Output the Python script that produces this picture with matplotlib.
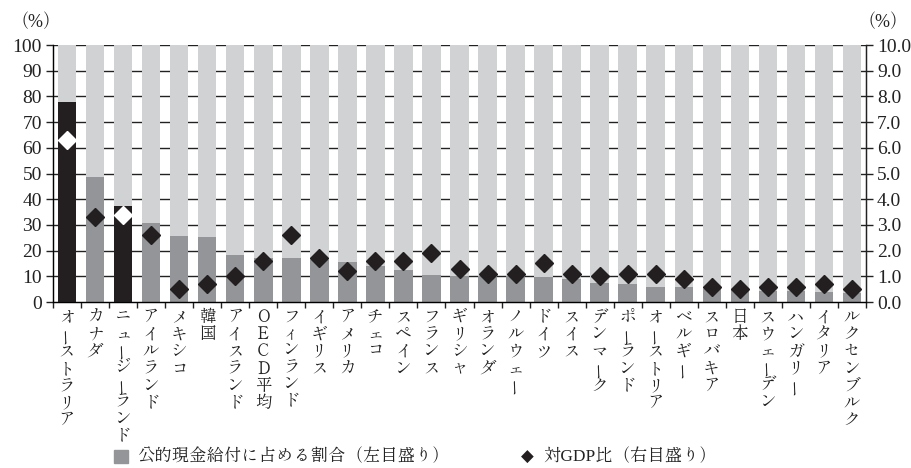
import matplotlib
matplotlib.use("Agg")
import matplotlib.pyplot as plt
from matplotlib.patches import Rectangle

jp = ['Shippori Mincho', 'Zen Old Mincho', 'Noto Sans CJK JP']
plt.rcParams['font.family'] = ['Liberation Serif'] + jp

# 国名（縦書き）
countries = ['オーストラリア', 'カナダ', 'ニュージーランド', 'アイルランド', 'メキシコ', '韓国',
             'アイスランド', 'ＯＥＣＤ平均', 'フィンランド', 'イギリス', 'アメリカ', 'チェコ',
             'スペイン', 'フランス', 'ギリシャ', 'オランダ', 'ノルウェー', 'ドイツ', 'スイス',
             'デンマーク', 'ポーランド', 'オーストリア', 'ベルギー', 'スロバキア', '日本',
             'スウェーデン', 'ハンガリー', 'イタリア', 'ルクセンブルク']
# 公的現金給付に占める割合（%）
share = [77.8, 48.6, 37.3, 30.6, 25.8, 25.2, 18.2, 17.3, 17.1, 16.5, 15.5, 14.0,
         12.3, 10.4, 10.0, 10.0, 10.0, 9.7, 8.8, 7.3, 6.9, 5.7, 5.7, 5.2, 4.7,
         4.2, 4.2, 3.9, 3.4]
# 対GDP比（%）
gdp = [6.3, 3.3, 3.4, 2.6, 0.5, 0.7, 1.0, 1.6, 2.6, 1.7, 1.2, 1.6, 1.6, 1.9, 1.3,
       1.1, 1.1, 1.5, 1.1, 1.0, 1.1, 1.1, 0.9, 0.6, 0.5, 0.6, 0.6, 0.7, 0.5]
highlight = ['オーストラリア', 'ニュージーランド']

light = '#d1d2d4'
mid = '#939598'
dark = '#231f20'
ink = '#222222'

fig = plt.figure(figsize=(9.11, 4.68), dpi=100)
ax = fig.add_axes([0.0582, 0.3547, 0.8924, 0.5491])
x = list(range(len(countries)))

# 目盛線（棒の後ろ）
for v in range(10, 101, 10):
    ax.axhline(v, color=ink, lw=1.0, zorder=0)

ax.bar(x, [100] * len(x), width=0.66, color=light, zorder=1)
bar_cols = [dark if c in highlight else mid for c in countries]
ax.bar(x, share, width=0.66, color=bar_cols, zorder=2)

ax.set_xlim(-0.5, len(x) - 0.5)
ax.set_ylim(0, 100)
ax.set_yticks(range(0, 101, 10))
ax.set_xticks([i - 0.5 for i in range(len(x) + 1)])
ax.set_xticklabels([])
ax.tick_params(axis='y', direction='out', length=5, width=1, labelsize=14, pad=3,
               colors=ink)
ax.tick_params(axis='x', direction='out', length=4, width=1, colors=ink)
ax.spines['top'].set_visible(False)
for s in ['left', 'bottom', 'right']:
    ax.spines[s].set_linewidth(1.0)
    ax.spines[s].set_color(ink)

ax2 = ax.twinx()
ax2.set_ylim(0, 10)
ax2.set_yticks(range(0, 11))
ax2.set_yticklabels([f'{v:.1f}' for v in range(0, 11)])
ax2.tick_params(axis='y', direction='out', length=5, width=1, labelsize=14, pad=3,
                colors=ink)
ax2.spines['top'].set_visible(False)
ax2.spines['right'].set_color(ink)

for lbl in ax.get_yticklabels() + ax2.get_yticklabels():
    lbl.set_fontfamily('Liberation Serif')

for i, (c, g) in enumerate(zip(countries, gdp)):
    fc = 'white' if c in highlight else dark
    ax2.plot(i, g, marker='D', ms=9.5, mfc=fc, mec=fc, zorder=5)

# 縦書きの国名ラベル
small = 'ュッィェャゥ'
for i, name in enumerate(countries):
    off = -16.0
    for ch in name:
        step = 11.3 if ch in small else 12.4
        rot = 90 if ch == 'ー' else 0
        ax.annotate(ch, xy=(i, 0), xycoords=('data', 'axes fraction'),
                    xytext=(0, off * 0.72), textcoords='offset points',
                    ha='center', va='center', rotation=rot, fontsize=12,
                    family=jp, color=ink)
        off -= step / 0.72

fig.text(0.011, 0.953, '（%）', fontsize=13, ha='left', va='center', color=ink)
fig.text(0.997, 0.953, '（%）', fontsize=13, ha='right', va='center', color=ink)

# 凡例
fig.patches.append(Rectangle((114 / 911, 1 - 463 / 468), 14 / 911, 13 / 468,
                             transform=fig.transFigure, color=mid))
fig.text(137 / 911, 1 - 457 / 468, '公的現金給付に占める割合（左目盛り）', fontsize=12.5,
         family=jp, color=ink, ha='left', va='center')
fig.text(521 / 911, 1 - 457 / 468, '◆', fontsize=12, family=['DejaVu Sans'], color=dark,
         ha='left', va='center')
fig.text(543 / 911, 1 - 457 / 468, '対GDP比（右目盛り）', fontsize=12.5,
         family=['Liberation Serif'] + jp, color=ink, ha='left', va='center')

fig.savefig('out.png', dpi=100)
